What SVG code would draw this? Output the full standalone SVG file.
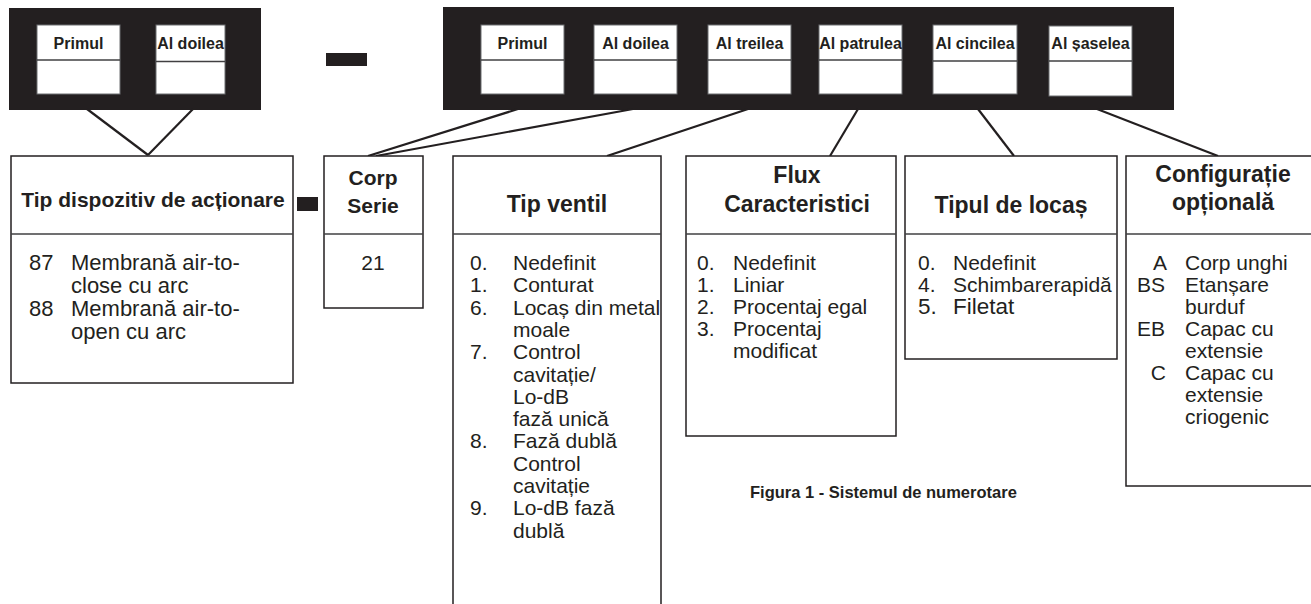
<svg xmlns="http://www.w3.org/2000/svg" width="1311" height="604" viewBox="0 0 1311 604">
<style>
.blk{fill:#231f20}
.cell{fill:#fff;stroke:#6d6e71;stroke-width:1}
.div{stroke:#414042;stroke-width:1.5}
.box{fill:#fff;stroke:#231f20;stroke-width:1.5}
.con{stroke:#231f20;stroke-width:2.2;fill:none}
text{font-family:"Liberation Sans",Arial,sans-serif;fill:#231f20}
.hd{font-size:16px;font-weight:bold;text-anchor:middle}
.t1{font-size:21px;font-weight:bold;text-anchor:middle}
.t2{font-size:23px;font-weight:bold;text-anchor:middle}
.b{font-size:21px}
.bl{font-size:22px}
.c{text-anchor:middle}
.r{text-anchor:end}
.cap{font-size:16.5px;font-weight:bold}
</style>

<g id="code-actuator">
<rect class="blk" x="9" y="8" width="252" height="102"/>
<rect class="cell" x="37" y="25" width="83" height="69"/>
<line class="div" x1="37" y1="60" x2="120" y2="60"/>
<text class="hd" x="78.5" y="49">Primul</text>
<rect class="cell" x="156" y="25" width="69" height="69"/>
<line class="div" x1="156" y1="61.5" x2="225" y2="61.5"/>
<text class="hd" x="190.5" y="49">Al doilea</text>
</g>

<g id="dash-top"><rect class="blk" x="326" y="53" width="41" height="13"/></g>

<g id="code-valve">
<rect class="blk" x="443" y="7" width="731" height="103"/>
<rect class="cell" x="481" y="25" width="83" height="69"/>
<line class="div" x1="481" y1="60" x2="564" y2="60"/>
<text class="hd" x="522.5" y="49">Primul</text>
<rect class="cell" x="594" y="25" width="83" height="69"/>
<line class="div" x1="594" y1="60" x2="677" y2="60"/>
<text class="hd" x="635.5" y="49">Al doilea</text>
<rect class="cell" x="708" y="25" width="83" height="69"/>
<line class="div" x1="708" y1="60" x2="791" y2="60"/>
<text class="hd" x="749.5" y="49">Al treilea</text>
<rect class="cell" x="819" y="25" width="83" height="69"/>
<line class="div" x1="819" y1="60" x2="902" y2="60"/>
<text class="hd" x="860.5" y="49">Al patrulea</text>
<rect class="cell" x="933" y="25" width="84" height="69"/>
<line class="div" x1="933" y1="61" x2="1017" y2="61"/>
<text class="hd" x="975" y="49">Al cincilea</text>
<rect class="cell" x="1049" y="26" width="83" height="70"/>
<line class="div" x1="1049" y1="61" x2="1132" y2="61"/>
<text class="hd" x="1090.5" y="49">Al șaselea</text>
</g>

<g id="connectors">
<line class="con" x1="87" y1="109" x2="148" y2="155"/>
<line class="con" x1="193" y1="109" x2="148" y2="155"/>
<line class="con" x1="518" y1="109" x2="368" y2="156"/>
<line class="con" x1="633" y1="109" x2="376" y2="156"/>
<line class="con" x1="748" y1="109" x2="607" y2="156"/>
<line class="con" x1="858" y1="109" x2="830" y2="156"/>
<line class="con" x1="978" y1="109" x2="1014" y2="156"/>
<line class="con" x1="1097" y1="109" x2="1218" y2="156"/>
</g>

<g id="actuator-type">
<rect class="box" x="11" y="156" width="282" height="227"/>
<line class="div" x1="11" y1="234" x2="293" y2="234"/>
<text class="t1" x="153" y="207">Tip dispozitiv de acționare</text>
<g class="bl">
<text x="29" y="270">87</text>
<text x="71" y="270">Membrană air-to-</text>
<text x="71" y="293">close cu arc</text>
<text x="29" y="316">88</text>
<text x="71" y="316">Membrană air-to-</text>
<text x="71" y="339">open cu arc</text>
</g>
</g>

<g id="dash-mid"><rect class="blk" x="297" y="197" width="21" height="14"/></g>

<g id="body-series">
<rect class="box" x="324" y="156" width="99" height="152"/>
<line class="div" x1="324" y1="234" x2="423" y2="234"/>
<text class="t1" x="373" y="185">Corp</text>
<text class="t1" x="373" y="213">Serie</text>
<text class="b c" x="373" y="270">21</text>
</g>

<g id="valve-type">
<path class="box" d="M453 610 V156 H661 V610"/>
<line class="div" x1="453" y1="234" x2="661" y2="234"/>
<text class="t2" x="557" y="212">Tip ventil</text>
<g class="b">
<text x="470" y="270">0.</text><text x="513" y="270">Nedefinit</text>
<text x="470" y="292.3">1.</text><text x="513" y="292.3">Conturat</text>
<text x="470" y="314.6">6.</text><text x="513" y="314.6">Locaș din metal</text>
<text x="513" y="336.9">moale</text>
<text x="470" y="359.2">7.</text><text x="513" y="359.2">Control</text>
<text x="513" y="381.5">cavitație/</text>
<text x="513" y="403.8">Lo-dB</text>
<text x="513" y="426.1">fază unică</text>
<text x="470" y="448.4">8.</text><text x="513" y="448.4">Fază dublă</text>
<text x="513" y="470.7">Control</text>
<text x="513" y="493">cavitație</text>
<text x="470" y="515.3">9.</text><text x="513" y="515.3">Lo-dB fază</text>
<text x="513" y="537.6">dublă</text>
</g>
</g>

<g id="flow-char">
<rect class="box" x="686" y="156" width="210" height="280"/>
<line class="div" x1="686" y1="234" x2="896" y2="234"/>
<text class="t2" x="797" y="183">Flux</text>
<text class="t2" x="797" y="212">Caracteristici</text>
<g class="b">
<text x="697" y="270">0.</text><text x="733" y="270">Nedefinit</text>
<text x="697" y="292">1.</text><text x="733" y="292">Liniar</text>
<text x="697" y="314">2.</text><text x="733" y="314">Procentaj egal</text>
<text x="697" y="336">3.</text><text x="733" y="336">Procentaj</text>
<text x="733" y="358">modificat</text>
</g>
</g>

<g id="seat-type">
<rect class="box" x="905" y="156" width="212" height="203"/>
<line class="div" x1="905" y1="234" x2="1117" y2="234"/>
<text class="t2" x="1011" y="213">Tipul de locaș</text>
<g class="b">
<text x="918" y="270">0.</text><text x="953" y="270">Nedefinit</text>
<text x="918" y="292">4.</text><text x="953" y="292">Schimbarerapidă</text>
<text x="918" y="314" font-size="22.5">5.</text><text x="953" y="314" font-size="22.5">Filetat</text>
</g>
</g>

<g id="optional-config">
<rect class="box" x="1126" y="156" width="200" height="330"/>
<line class="div" x1="1126" y1="234" x2="1326" y2="234"/>
<text class="t2" x="1223" y="182">Configurație</text>
<text class="t2" x="1223" y="210">opțională</text>
<g class="b">
<text class="r" x="1167" y="270">A</text><text x="1185" y="270">Corp unghi</text>
<text class="r" x="1165" y="292">BS</text><text x="1185" y="292">Etanșare</text>
<text x="1185" y="314">burduf</text>
<text class="r" x="1165" y="336">EB</text><text x="1185" y="336">Capac cu</text>
<text x="1185" y="358">extensie</text>
<text class="r" x="1166" y="380">C</text><text x="1185" y="380">Capac cu</text>
<text x="1185" y="402">extensie</text>
<text x="1185" y="424">criogenic</text>
</g>
</g>

<g id="caption"><text class="cap" x="750" y="498">Figura 1 - Sistemul de numerotare</text></g>
</svg>
